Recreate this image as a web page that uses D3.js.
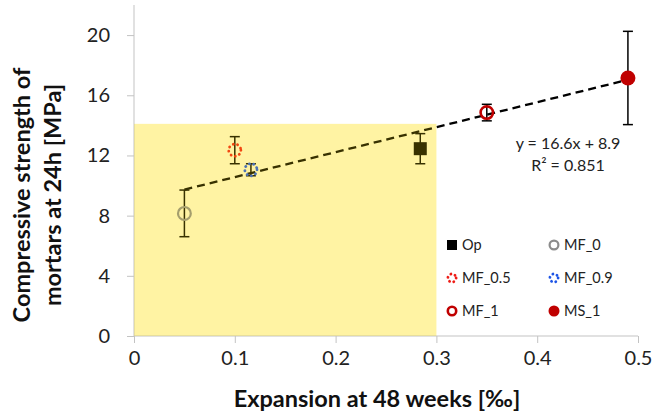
<!DOCTYPE html>
<html>
<head>
<meta charset="utf-8">
<script src="https://cdn.jsdelivr.net/npm/d3@7"></script>
<style>
  html, body { margin: 0; padding: 0; background: #fff; }
  svg { display: block; font-family: Lato, "Open Sans", sans-serif; }
</style>
</head>
<body>
<svg id="chart" width="654" height="418"></svg>
<script>
// Mortar series: expansion at 48 weeks [‰] vs. 24 h compressive strength [MPa]
const seriesNames = ["Op", "MF_0", "MF_0.5", "MF_0.9", "MF_1", "MS_1"];
const expansion = [0.284, 0.05, 0.1, 0.116, 0.35, 0.49];
const strength = [12.45, 8.15, 12.35, 11.05, 14.85, 17.15];
const strengthErr = [1.0, 1.55, 0.9, 0.4, 0.55, 3.1];

// Linear fit across all series
const trendSlope = 16.6;
const trendIntercept = 8.9;
const trendR2 = 0.851;

// Axis ticks
const xTicks = [0, 0.1, 0.2, 0.3, 0.4, 0.5];
const yTicks = [0, 4, 8, 12, 16, 20];

// Shaded zone: expansion up to 0.3 ‰, strength up to 14.1 MPa
const zoneX = [0, 0.3];
const zoneY = [0, 14.1];

// Marker styling per series
const markerStyle = {
  "Op":     { shape: "square", fill: "#000", stroke: "none" },
  "MF_0":   { shape: "circle", fill: "none", stroke: "#8c8c8c", width: 2.2 },
  "MF_0.5": { shape: "circle", fill: "none", stroke: "#ee1c16", width: 2.8, dotted: true },
  "MF_0.9": { shape: "circle", fill: "none", stroke: "#1d54e6", width: 2.8, dotted: true },
  "MF_1":   { shape: "circle", fill: "none", stroke: "#c00000", width: 2.6 },
  "MS_1":   { shape: "circle", fill: "#c00000", stroke: "none" }
};

const svg = d3.select("#chart");
const x = d3.scaleLinear().domain([0, 0.5]).range([134, 638]);
const y = d3.scaleLinear().domain([0, 22]).range([336, 5]);

const axisColor = "#c3c3c3";

// Pale yellow base of the shaded zone, under the marks
const zone = {
  x: x(zoneX[0]), y: y(zoneY[1]),
  w: x(zoneX[1]) - x(zoneX[0]), h: y(zoneY[0]) - y(zoneY[1])
};
svg.append("rect")
  .attr("x", zone.x).attr("y", zone.y).attr("width", zone.w).attr("height", zone.h)
  .attr("fill", "#fff9d1");

// Axes
const xAxis = svg.append("g").attr("transform", `translate(0,${y(0)})`)
  .call(d3.axisBottom(x).tickValues(xTicks).tickSize(7).tickPadding(8)
    .tickFormat(d => d === 0 ? "0" : d3.format(".1f")(d)));
xAxis.select(".domain").attr("stroke", axisColor).attr("d", `M${x(0)},0H${x(0.5)}`);
xAxis.selectAll(".tick line").attr("stroke", axisColor);
xAxis.selectAll(".tick text").attr("font-size", 20).attr("fill", "#222")
  .attr("font-family", "Lato, sans-serif");

const yAxis = svg.append("g").attr("transform", `translate(${x(0)},0)`)
  .call(d3.axisLeft(y).tickValues(yTicks).tickSize(7).tickPadding(17));
yAxis.select(".domain").attr("stroke", axisColor).attr("d", `M0,${y(22)}V${y(0)}`);
yAxis.selectAll(".tick line").attr("stroke", axisColor);
yAxis.selectAll(".tick text").attr("font-size", 20).attr("fill", "#222")
  .attr("font-family", "Lato, sans-serif");

// Axis titles
svg.append("text")
  .attr("x", 377).attr("y", 407)
  .attr("text-anchor", "middle")
  .attr("font-size", 23.5).attr("font-weight", "bold").attr("fill", "#111")
  .text("Expansion at 48 weeks [‰]");

const yTitle = svg.append("text")
  .attr("transform", "translate(0,195) rotate(-90)")
  .attr("text-anchor", "middle")
  .attr("font-size", 23.5).attr("font-weight", "bold").attr("fill", "#111");
yTitle.append("tspan").attr("x", 0).attr("y", 30).text("Compressive strength of");
yTitle.append("tspan").attr("x", 0).attr("y", 61).text("mortars at 24h [MPa]");

// Trend line over the span of the data
const plot = svg.append("g");
const xMin = d3.min(expansion), xMax = d3.max(expansion);
plot.append("line")
  .attr("x1", x(xMin)).attr("y1", y(trendSlope * xMin + trendIntercept))
  .attr("x2", x(xMax)).attr("y2", y(trendSlope * xMax + trendIntercept))
  .attr("stroke", "#000").attr("stroke-width", 2.3)
  .attr("stroke-dasharray", "8,5");

// Error bars
const data = seriesNames.map((name, i) => ({
  name, x: expansion[i], y: strength[i], err: strengthErr[i]
}));
const eb = plot.selectAll(".eb").data(data).join("g").attr("class", "eb")
  .attr("stroke", "#000").attr("stroke-width", 1.5);
eb.append("line")
  .attr("x1", d => x(d.x)).attr("x2", d => x(d.x))
  .attr("y1", d => y(d.y + d.err)).attr("y2", d => y(d.y - d.err));
eb.append("line")
  .attr("x1", d => x(d.x) - 5).attr("x2", d => x(d.x) + 5)
  .attr("y1", d => y(d.y + d.err)).attr("y2", d => y(d.y + d.err));
eb.append("line")
  .attr("x1", d => x(d.x) - 5).attr("x2", d => x(d.x) + 5)
  .attr("y1", d => y(d.y - d.err)).attr("y2", d => y(d.y - d.err));

// Markers
function drawMarker(g, name, cx, cy, size) {
  const s = markerStyle[name];
  if (s.shape === "square") {
    g.append("rect")
      .attr("x", cx - size).attr("y", cy - size)
      .attr("width", size * 2).attr("height", size * 2)
      .attr("fill", s.fill);
  } else {
    const c = g.append("circle")
      .attr("cx", cx).attr("cy", cy)
      .attr("r", s.fill === "none" ? size - s.width / 2 : size)
      .attr("fill", s.fill)
      .attr("stroke", s.stroke === "none" ? null : s.stroke)
      .attr("stroke-width", s.width || null);
    if (s.dotted) {
      c.attr("stroke-dasharray", "0.1,4.3").attr("stroke-linecap", "round");
    }
  }
}

data.forEach(d => {
  const size = d.name === "Op" ? 6.5 : 7.5;
  drawMarker(plot, d.name, x(d.x), y(d.y), size);
});

// Light yellow tint laid over the marks inside the zone
svg.append("rect")
  .attr("x", zone.x).attr("y", zone.y).attr("width", zone.w).attr("height", zone.h)
  .attr("fill", "#ffe000").attr("fill-opacity", 0.22);

// Trend equation
const eq = svg.append("text").attr("text-anchor", "middle")
  .attr("font-size", 16).attr("fill", "#222");
eq.append("tspan").attr("x", 568).attr("y", 149)
  .text(`y = ${trendSlope}x + ${trendIntercept}`);
eq.append("tspan").attr("x", 568).attr("y", 171)
  .text(`R² = ${trendR2}`);

// Legend
const legendCols = [452, 554];
const legendRows = [245, 278, 311];
const legend = svg.append("g");
seriesNames.forEach((name, i) => {
  const lx = legendCols[i % 2];
  const ly = legendRows[Math.floor(i / 2)];
  drawMarker(legend, name, lx, ly, name === "Op" ? 5 : 5.5);
  legend.append("text")
    .attr("x", lx + 10).attr("y", ly)
    .attr("dy", "0.36em")
    .attr("font-size", 14.5).attr("fill", "#222")
    .text(name);
});
</script>
</body>
</html>
